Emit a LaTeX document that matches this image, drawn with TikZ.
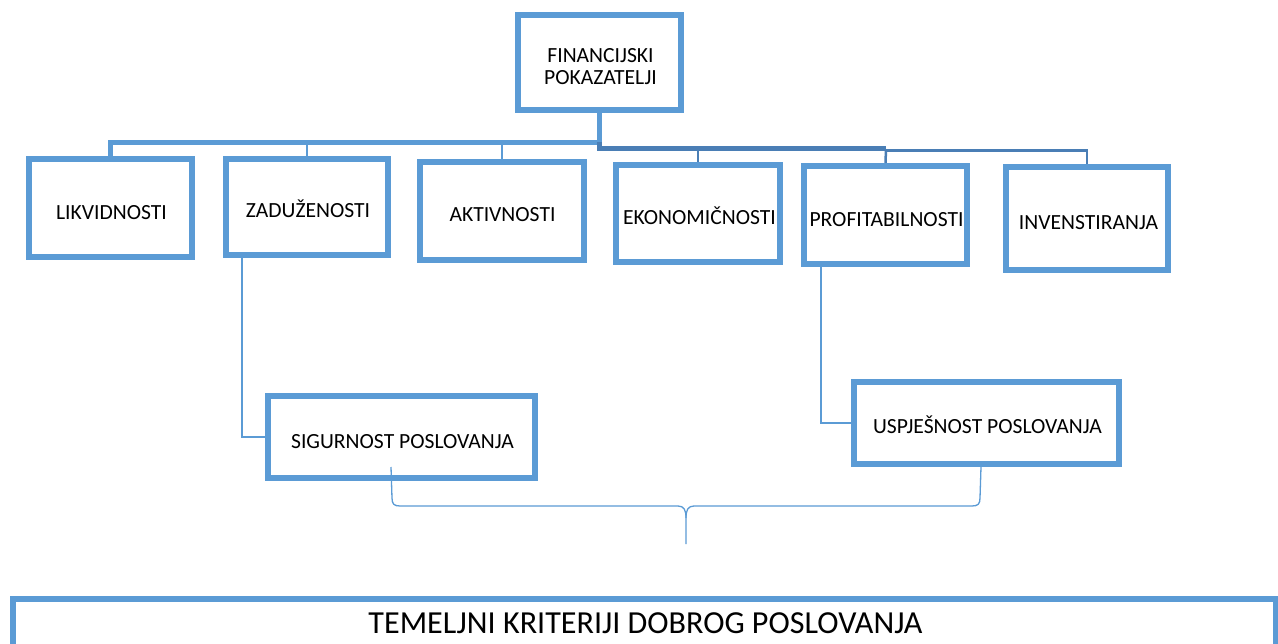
\documentclass[tikz,border=0pt]{standalone}
\usepackage{fontspec}
\setmainfont{Carlito}
\usetikzlibrary{backgrounds}
\definecolor{boxblue}{HTML}{5B9BD5}
\definecolor{darkblue}{HTML}{4A7EB5}
\tikzset{
  box/.style={draw=boxblue, line width=6pt, fill=white, inner sep=0pt},
  txt/.style={inner sep=0pt, anchor=base, font=\fontsize{21.6}{22}\selectfont, text=black},
  bigtxt/.style={inner sep=0pt, anchor=base, font=\fontsize{32.1}{34}\selectfont, text=black},
  thickline/.style={draw=boxblue, line width=5pt},
  thinline/.style={draw=boxblue, line width=2.5pt},
  darkthick/.style={draw=darkblue, line width=5pt},
  darkthin/.style={draw=darkblue, line width=2.5pt},
  bracel/.style={draw=boxblue, line width=1.3pt}
}
\begin{document}
\begin{tikzpicture}[x=1pt,y=-1pt]
\useasboundingbox (0,0) rectangle (1278,644);
\clip (0,0) rectangle (1278,644);

% junction coordinates
\coordinate (jL) at (599.5,142.5);
\coordinate (jR) at (599.5,149);
\coordinate (jP) at (886,149);
\coordinate (jI) at (886,150.5);
\coordinate (xz) at (242,0);
\coordinate (xp) at (821,0);
\coordinate (lstart) at (602,142.5);

% boxes
\node[box, minimum width=163pt, minimum height=95pt] (fin) at (599.5,62.5) {};
\node[box, minimum width=163pt, minimum height=98pt] (lik) at (110.5,208) {};
\node[box, minimum width=162pt, minimum height=96pt] (zad) at (307,207) {};
\node[box, minimum width=164pt, minimum height=98pt] (akt) at (502,211) {};
\node[box, minimum width=164pt, minimum height=97pt] (eko) at (698,213.5) {};
\node[box, minimum width=163pt, minimum height=98pt] (pro) at (885.5,215) {};
\node[box, minimum width=162pt, minimum height=103pt] (inv) at (1087,218.5) {};
\node[box, minimum width=267pt, minimum height=82pt] (sig) at (401.5,437) {};
\node[box, minimum width=265pt, minimum height=82pt] (usp) at (986.5,423) {};
\node[box, minimum width=1263pt, minimum height=101pt] (tem) at (644.5,649.5) {};

% connectors behind boxes
\begin{scope}[on background layer]
\fill[white] (0,0) rectangle (1278,644);
\draw[thickline] (fin.south) -- (jL);
\draw[thickline] (lstart) -| (lik.north);
\draw[thinline] (jL -| zad.north) -- (zad.north);
\draw[thinline] (jL -| akt.north) -- (akt.north);
\draw[darkthick] (jL) -- (jR) -- (jP);
\draw[darkthin] (jR -| eko.north) -- (eko.north);
\draw[darkthin] (jP) -- (pro.north);
\draw[darkthin] (jI) -| (inv.north);
\draw[thinline] (zad.south -| xz) |- (sig.west);
\draw[thinline] (pro.south -| xp) |- (usp.west);
\end{scope}

% texts
\node[txt, anchor=center, align=center] (fint) at (600.5,67) {FINANCIJSKI\\POKAZATELJI};
\node[txt] (likt) at (111.5,220) {LIKVIDNOSTI};
\node[txt] (zadt) at (308,218) {ZADUŽENOSTI};
\node[txt] (aktt) at (502.5,222) {AKTIVNOSTI};
\node[txt] (ekot) at (699.5,225) {EKONOMIČNOSTI};
\node[txt] (prot) at (886.5,227) {PROFITABILNOSTI};
\node[txt] (invt) at (1088.5,230) {INVENSTIRANJA};
\node[txt] (sigt) at (402.5,448) {SIGURNOST POSLOVANJA};
\node[txt] (uspt) at (987.5,434) {USPJEŠNOST POSLOVANJA};
\node[bigtxt] (temt) at (645.5,633) {TEMELJNI KRITERIJI DOBROG POSLOVANJA};

% brace
\coordinate (bL) at (391,467);
\coordinate (bR) at (981,467);
\coordinate (bT) at (686,544);
\draw[bracel] (bL) -- (392,498) .. controls (392,504) and (394,506) .. (400,506)
  -- (678,506) .. controls (684,506) and (686,510) .. (686,518) -- (bT);
\draw[bracel] (bR) -- (980,498) .. controls (980,504) and (978,506) .. (972,506)
  -- (694,506) .. controls (688,506) and (686,510) .. (686,518);
\end{tikzpicture}
\end{document}
